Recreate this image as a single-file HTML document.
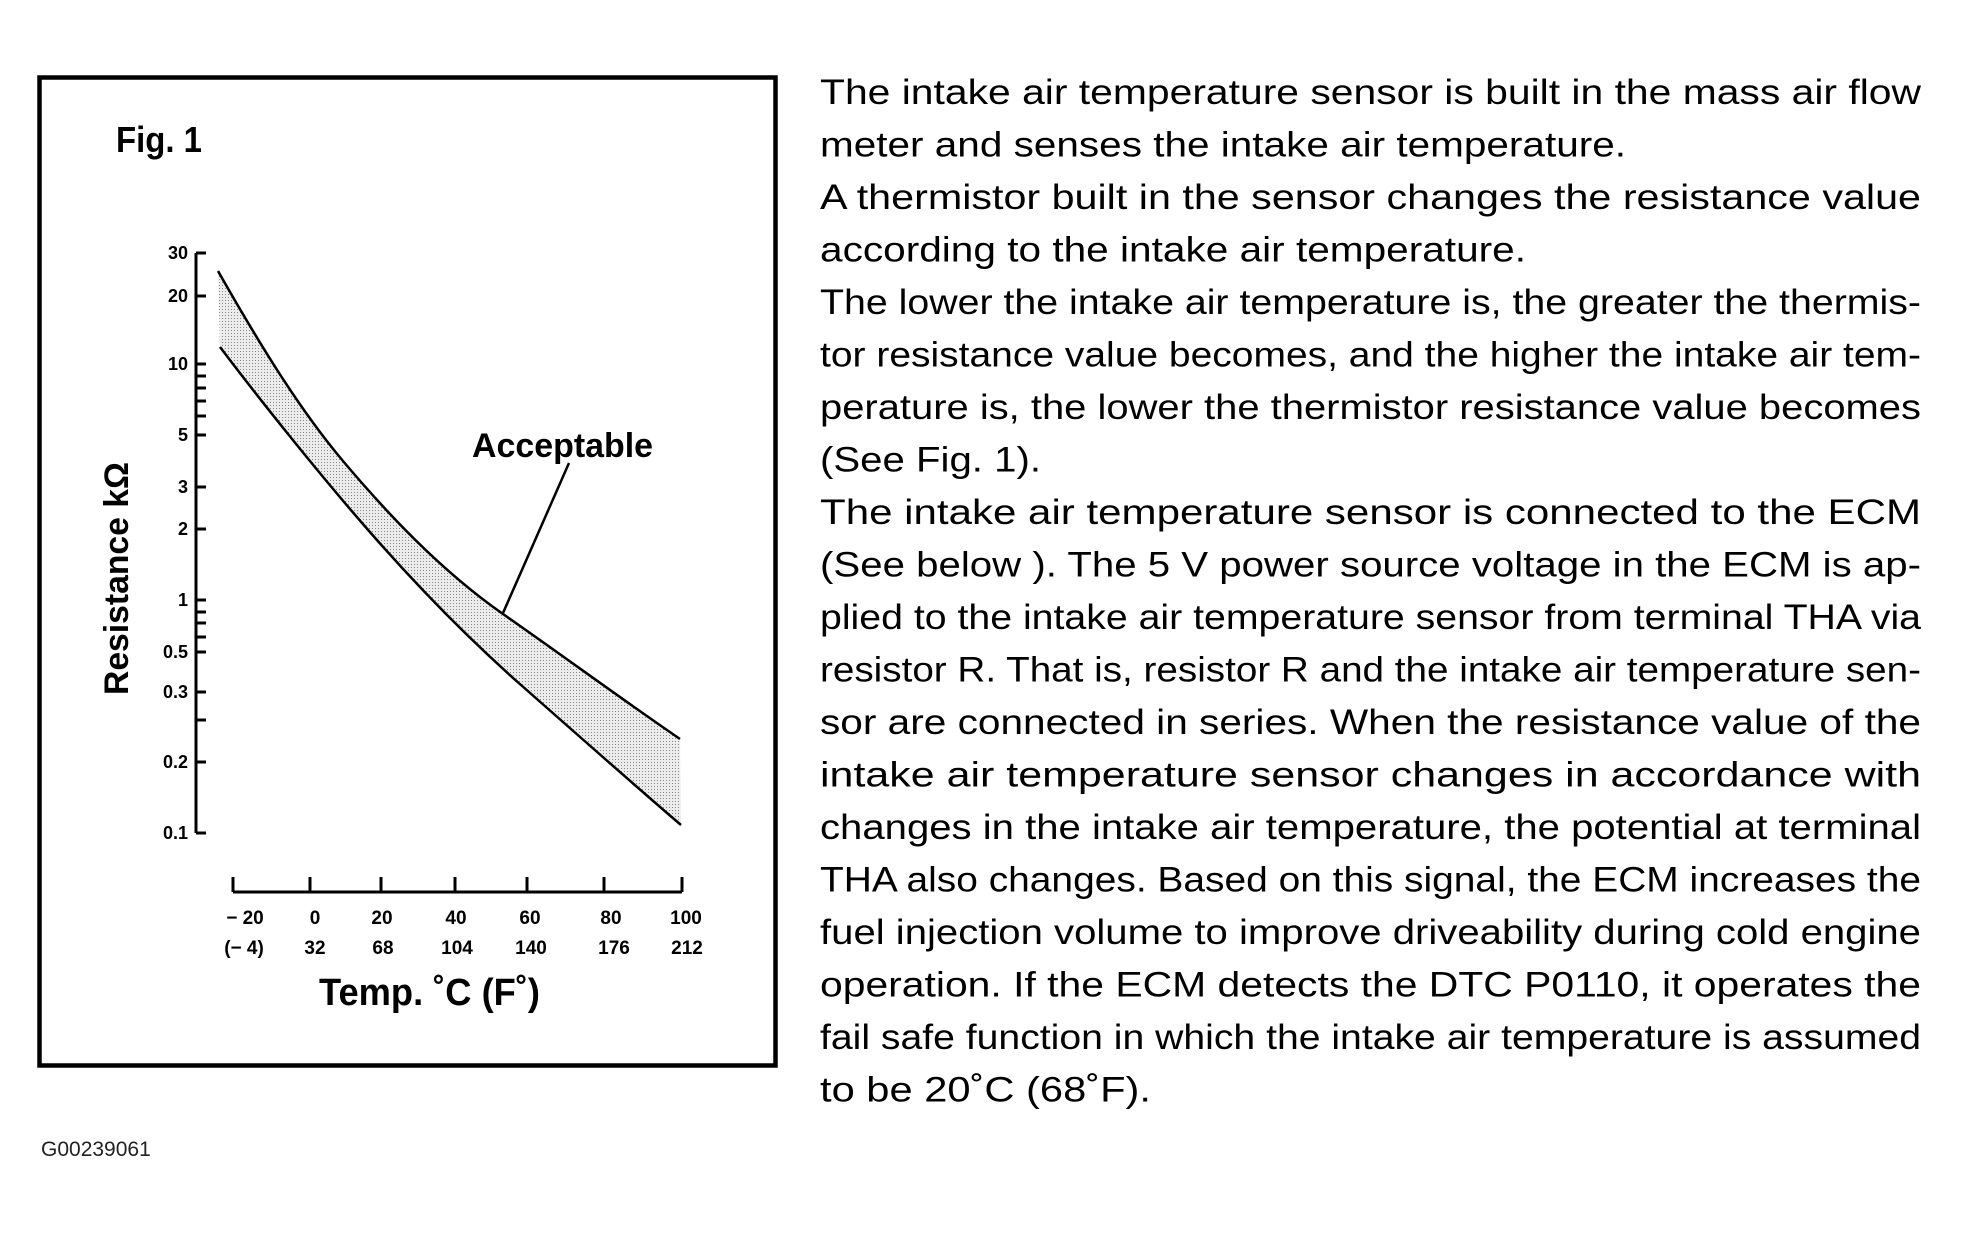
<!DOCTYPE html>
<html><head><meta charset="utf-8"><style>
html,body{margin:0;padding:0;background:#fff;}
svg{display:block;}
.b{font-family:"Liberation Sans",sans-serif;font-weight:bold;fill:#000;}
.t{font-family:"Liberation Sans",sans-serif;font-size:35px;fill:#000;}
</style></head><body>
<svg width="1963" height="1234" viewBox="0 0 1963 1234" xmlns="http://www.w3.org/2000/svg">
<defs>
<pattern id="dots" width="3" height="3" patternUnits="userSpaceOnUse">
<rect width="3" height="3" fill="#ececec"/><rect width="1" height="1" fill="#888"/>
</pattern>
</defs>
<rect x="39.5" y="77.5" width="736" height="988" fill="none" stroke="#000" stroke-width="4.5"/>
<text class="b" x="116" y="152" font-size="36" textLength="86" lengthAdjust="spacingAndGlyphs">Fig. 1</text>

<!-- band -->
<path d="M218,271 C260,345 300,410 343,461 S440,570 503,614 S630,705 680,739 L681,825 C640,790 570,730 521,685 S418,587 369,531 S260,400 220,347 Z" fill="url(#dots)"/>
<path d="M218,271 C260,345 300,410 343,461 S440,570 503,614 S630,705 680,739" fill="none" stroke="#000" stroke-width="2.5"/>
<path d="M220,347 C260,400 320,475 369,531 S470,640 521,685 S640,790 681,825" fill="none" stroke="#000" stroke-width="2.5"/>
<line x1="569" y1="463" x2="503" y2="613" stroke="#000" stroke-width="2.5"/>
<text class="b" x="472" y="457" font-size="34" textLength="181" lengthAdjust="spacingAndGlyphs">Acceptable</text>

<!-- y axis -->
<g stroke="#000" stroke-width="3">
<line x1="196" y1="253" x2="196" y2="833"/>
<line x1="196" y1="253" x2="206" y2="253"/><line x1="196" y1="296" x2="206" y2="296"/>
<line x1="196" y1="364" x2="206" y2="364"/><line x1="196" y1="376" x2="206" y2="376"/>
<line x1="196" y1="388" x2="206" y2="388"/><line x1="196" y1="401" x2="206" y2="401"/>
<line x1="196" y1="416" x2="206" y2="416"/><line x1="196" y1="435" x2="206" y2="435"/>
<line x1="196" y1="487" x2="206" y2="487"/><line x1="196" y1="529" x2="206" y2="529"/>
<line x1="196" y1="600" x2="206" y2="600"/><line x1="196" y1="612" x2="206" y2="612"/>
<line x1="196" y1="623" x2="206" y2="623"/><line x1="196" y1="637" x2="206" y2="637"/>
<line x1="196" y1="652" x2="206" y2="652"/><line x1="196" y1="692" x2="206" y2="692"/>
<line x1="196" y1="720" x2="206" y2="720"/><line x1="196" y1="762" x2="206" y2="762"/>
<line x1="196" y1="833" x2="206" y2="833"/>
</g>
<g class="b" font-size="18" text-anchor="end">
<text x="188" y="259">30</text><text x="188" y="302">20</text><text x="188" y="370">10</text>
<text x="188" y="441">5</text><text x="188" y="493">3</text><text x="188" y="535">2</text>
<text x="188" y="606">1</text><text x="188" y="658">0.5</text><text x="188" y="698">0.3</text>
<text x="188" y="768">0.2</text><text x="188" y="839">0.1</text>
</g>
<text class="b" font-size="34" transform="translate(128,695) rotate(-90)" textLength="233" lengthAdjust="spacingAndGlyphs">Resistance kΩ</text>

<!-- x axis -->
<g stroke="#000" stroke-width="3">
<line x1="233" y1="892" x2="682" y2="892"/>
<line x1="233" y1="877" x2="233" y2="892"/><line x1="310" y1="877" x2="310" y2="892"/>
<line x1="381" y1="877" x2="381" y2="892"/><line x1="455" y1="877" x2="455" y2="892"/>
<line x1="527" y1="877" x2="527" y2="892"/><line x1="604" y1="877" x2="604" y2="892"/>
<line x1="682" y1="877" x2="682" y2="892"/>
</g>
<g class="b" font-size="19" text-anchor="middle">
<text x="245" y="924">− 20</text><text x="315" y="924">0</text><text x="382" y="924">20</text>
<text x="456" y="924">40</text><text x="530" y="924">60</text><text x="611" y="924">80</text><text x="686" y="924">100</text>
<text x="244" y="954">(− 4)</text><text x="315" y="954">32</text><text x="383" y="954">68</text>
<text x="457" y="954">104</text><text x="531" y="954">140</text><text x="614" y="954">176</text><text x="687" y="954">212</text>
</g>
<text class="b" x="319" y="1005" font-size="38" textLength="221" lengthAdjust="spacingAndGlyphs">Temp. ˚C (F˚)</text>

<text x="41" y="1156" font-family="Liberation Sans,sans-serif" font-size="21" fill="#222">G00239061</text>

<!-- paragraph -->
<g class="t">
<text x="820" y="104" textLength="1101" lengthAdjust="spacingAndGlyphs">The intake air temperature sensor is built in the mass air flow</text>
<text x="820" y="156.5" textLength="806" lengthAdjust="spacingAndGlyphs">meter and senses the intake air temperature.</text>
<text x="820" y="209" textLength="1101" lengthAdjust="spacingAndGlyphs">A thermistor built in the sensor changes the resistance value</text>
<text x="820" y="261.5" textLength="706" lengthAdjust="spacingAndGlyphs">according to the intake air temperature.</text>
<text x="820" y="314" textLength="1101" lengthAdjust="spacingAndGlyphs">The lower the intake air temperature is, the greater the thermis-</text>
<text x="820" y="366.5" textLength="1101" lengthAdjust="spacingAndGlyphs">tor resistance value becomes, and the higher the intake air tem-</text>
<text x="820" y="419" textLength="1101" lengthAdjust="spacingAndGlyphs">perature is, the lower the thermistor resistance value becomes</text>
<text x="820" y="471.5" textLength="221" lengthAdjust="spacingAndGlyphs">(See Fig. 1).</text>
<text x="820" y="524" textLength="1101" lengthAdjust="spacingAndGlyphs">The intake air temperature sensor is connected to the ECM</text>
<text x="820" y="576.5" textLength="1101" lengthAdjust="spacingAndGlyphs">(See below ). The 5 V power source voltage in the ECM is ap-</text>
<text x="820" y="629" textLength="1101" lengthAdjust="spacingAndGlyphs">plied to the intake air temperature sensor from terminal THA via</text>
<text x="820" y="681.5" textLength="1101" lengthAdjust="spacingAndGlyphs">resistor R. That is, resistor R and the intake air temperature sen-</text>
<text x="820" y="734" textLength="1101" lengthAdjust="spacingAndGlyphs">sor are connected in series. When the resistance value of the</text>
<text x="820" y="786.5" textLength="1101" lengthAdjust="spacingAndGlyphs">intake air temperature sensor changes in accordance with</text>
<text x="820" y="839" textLength="1101" lengthAdjust="spacingAndGlyphs">changes in the intake air temperature, the potential at terminal</text>
<text x="820" y="891.5" textLength="1101" lengthAdjust="spacingAndGlyphs">THA also changes. Based on this signal, the ECM increases the</text>
<text x="820" y="944" textLength="1101" lengthAdjust="spacingAndGlyphs">fuel injection volume to improve driveability during cold engine</text>
<text x="820" y="996.5" textLength="1101" lengthAdjust="spacingAndGlyphs">operation. If the ECM detects the DTC P0110, it operates the</text>
<text x="820" y="1049" textLength="1101" lengthAdjust="spacingAndGlyphs">fail safe function in which the intake air temperature is assumed</text>
<text x="820" y="1101.5" textLength="331" lengthAdjust="spacingAndGlyphs">to be 20˚C (68˚F).</text>
</g>
</svg>
</body></html>
